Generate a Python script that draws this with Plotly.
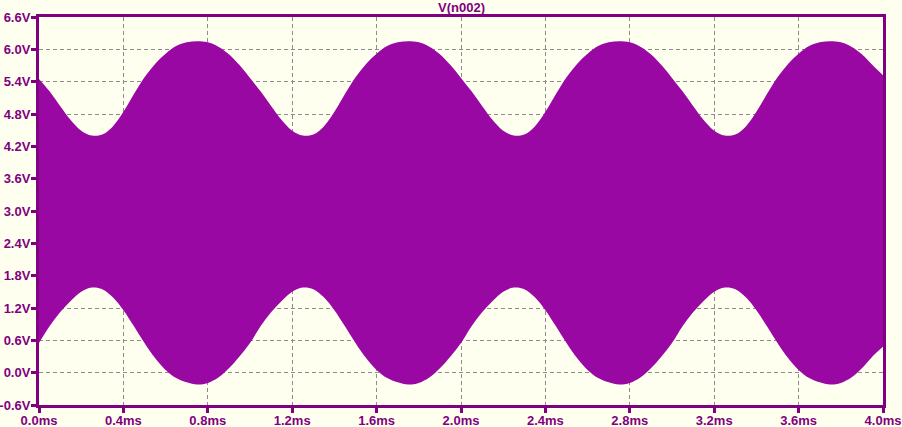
import plotly.graph_objects as go

# time axis (ms), envelope sampled every 0.05 ms
t_ms = [round(i * 0.05, 2) for i in range(81)]

# upper envelope of V(n002) (V)
v_upper = [
    5.45, 5.22, 4.95, 4.69, 4.49, 4.40, 4.42, 4.57, 4.84, 5.17,
    5.48, 5.73, 5.92, 6.06, 6.13, 6.15, 6.13, 6.05, 5.91, 5.71,
    5.47, 5.22, 4.95, 4.69, 4.49, 4.40, 4.42, 4.57, 4.84, 5.17,
    5.48, 5.73, 5.92, 6.06, 6.13, 6.15, 6.13, 6.05, 5.91, 5.71,
    5.47, 5.22, 4.95, 4.69, 4.49, 4.40, 4.42, 4.57, 4.84, 5.17,
    5.48, 5.73, 5.92, 6.06, 6.13, 6.15, 6.13, 6.05, 5.91, 5.71,
    5.47, 5.22, 4.95, 4.69, 4.49, 4.40, 4.42, 4.57, 4.84, 5.17,
    5.48, 5.73, 5.92, 6.06, 6.13, 6.15, 6.13, 6.05, 5.91, 5.71,
    5.52,
]

# lower envelope (V)
v_lower = [
    0.55, 0.86, 1.12, 1.33, 1.50, 1.58, 1.55, 1.40, 1.16, 0.86,
    0.55, 0.27, 0.05, -0.10, -0.18, -0.22, -0.19, -0.09, 0.08, 0.30,
    0.55, 0.86, 1.12, 1.33, 1.50, 1.58, 1.55, 1.40, 1.16, 0.86,
    0.55, 0.27, 0.05, -0.10, -0.18, -0.22, -0.19, -0.09, 0.08, 0.30,
    0.55, 0.86, 1.12, 1.33, 1.50, 1.58, 1.55, 1.40, 1.16, 0.86,
    0.55, 0.27, 0.05, -0.10, -0.18, -0.22, -0.19, -0.09, 0.08, 0.30,
    0.55, 0.86, 1.12, 1.33, 1.50, 1.58, 1.55, 1.40, 1.16, 0.86,
    0.55, 0.27, 0.05, -0.10, -0.18, -0.22, -0.19, -0.09, 0.08, 0.30,
    0.48,
]

x_ticks = [0.0, 0.4, 0.8, 1.2, 1.6, 2.0, 2.4, 2.8, 3.2, 3.6, 4.0]
y_ticks = [-0.6, 0.0, 0.6, 1.2, 1.8, 2.4, 3.0, 3.6, 4.2, 4.8, 5.4, 6.0, 6.6]

PURPLE = "#800080"
FILL = "#9a08a4"
BG = "#fffff0"

fig = go.Figure()
fig.add_trace(go.Scatter(x=t_ms, y=v_lower, mode="lines", line=dict(width=0, shape="spline", color=FILL),
                         hoverinfo="skip", showlegend=False))
fig.add_trace(go.Scatter(x=t_ms, y=v_upper, mode="lines", line=dict(width=0, shape="spline", color=FILL),
                         fill="tonexty", fillcolor=FILL, name="V(n002)", showlegend=False))

tickfont = dict(family="Liberation Sans", size=13, color=PURPLE, weight="bold")
axis_common = dict(
    showline=True, linecolor=PURPLE, linewidth=3, mirror=True,
    ticks="outside", tickwidth=3, tickcolor=PURPLE,
    showgrid=True, gridcolor="#8c8c8c", griddash="4px,3px", gridwidth=1,
    zeroline=False, tickfont=tickfont, automargin=False, ticklabeloverflow="allow",
)

fig.update_xaxes(range=[0, 4], tickvals=x_ticks, ticktext=[f"{v:.1f}ms" for v in x_ticks],
                 ticklen=5, ticklabelstandoff=-4, **axis_common)
fig.update_yaxes(range=[-0.6, 6.6], tickvals=y_ticks, ticktext=[f"{v:.1f}V" for v in y_ticks],
                 ticklen=5, ticklabelstandoff=-2, **axis_common)

fig.add_annotation(text="V(n002)", x=0.5, y=1, xref="paper", yref="paper", yanchor="bottom",
                   showarrow=False, yshift=0,
                   font=dict(family="Liberation Sans", size=13, color=PURPLE, weight="bold"))

fig.update_layout(
    width=902, height=427,
    margin=dict(l=39, r=19, t=17, b=22, pad=0, autoexpand=False),
    paper_bgcolor=BG, plot_bgcolor=BG,
)

# drop the browser's default 8px body margin so the figure fills the window
fig.write_html("out.html", config={"displayModeBar": False},
               post_script="document.body.style.margin='0';document.body.style.overflow='hidden';")
